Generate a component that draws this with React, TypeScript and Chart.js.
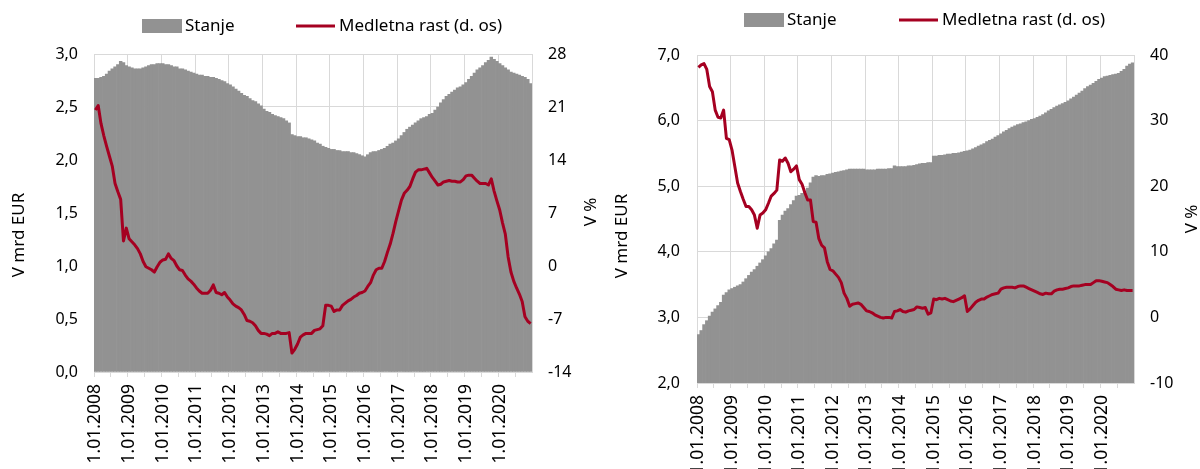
import React, { useEffect, useRef } from "react";
import { Chart, registerables } from "chart.js";

Chart.register(...registerables);

// ---------- categories ----------
const YEARS = [2008, 2009, 2010, 2011, 2012, 2013, 2014, 2015, 2016, 2017, 2018, 2019, 2020];
const MONTHS = ["01", "02", "03", "04", "05", "06", "07", "08", "09", "10", "11", "12"];
const CATEGORIES: string[] = YEARS.flatMap((y) => MONTHS.map((m) => `1.${m}.${y}`));

// ---------- left panel ----------
const LEFT_STANJE = [
  2.77, 2.77, 2.78, 2.79, 2.81, 2.84, 2.86, 2.88, 2.90, 2.93, 2.92, 2.89,
  2.88, 2.87, 2.86, 2.86, 2.86, 2.87, 2.88, 2.89, 2.90, 2.90, 2.91, 2.91,
  2.91, 2.90, 2.90, 2.89, 2.88, 2.88, 2.86, 2.86, 2.85, 2.84, 2.83, 2.82,
  2.81, 2.80, 2.80, 2.79, 2.79, 2.78, 2.78, 2.77, 2.76, 2.75, 2.74, 2.72,
  2.71, 2.69, 2.67, 2.65, 2.63, 2.61, 2.60, 2.58, 2.56, 2.55, 2.53, 2.51,
  2.48, 2.46, 2.45, 2.43, 2.42, 2.41, 2.40, 2.39, 2.37, 2.35, 2.24, 2.23,
  2.22, 2.22, 2.21, 2.21, 2.20, 2.19, 2.18, 2.16, 2.15, 2.13, 2.12, 2.11,
  2.10, 2.10, 2.09, 2.09, 2.08, 2.08, 2.08, 2.07, 2.07, 2.06, 2.05, 2.04,
  2.03, 2.05, 2.07, 2.08, 2.08, 2.09, 2.10, 2.11, 2.13, 2.15, 2.16, 2.18,
  2.20, 2.23, 2.26, 2.29, 2.31, 2.33, 2.35, 2.37, 2.39, 2.40, 2.41, 2.43,
  2.44, 2.47, 2.50, 2.54, 2.57, 2.60, 2.62, 2.64, 2.66, 2.68, 2.69, 2.71,
  2.73, 2.76, 2.79, 2.82, 2.85, 2.87, 2.89, 2.92, 2.94, 2.97, 2.95, 2.93,
  2.91, 2.89, 2.87, 2.85, 2.83, 2.82, 2.81, 2.80, 2.79, 2.78, 2.76, 2.72,
];
const LEFT_RAST = [
  20.6, 21.2, 18.8, 17.2, 15.8, 14.5, 13.2, 10.9, 9.8, 8.8, 3.3, 5.0,
  3.6, 3.2, 2.8, 2.3, 1.6, 0.6, -0.1, -0.3, -0.5, -0.8, -0.1, 0.5,
  0.8, 0.9, 1.6, 1.0, 0.7, 0.0, -0.5, -0.6, -1.2, -1.7, -2.0, -2.4,
  -2.9, -3.3, -3.6, -3.6, -3.6, -3.2, -2.5, -3.5, -3.6, -3.8, -3.5, -4.1,
  -4.5, -5.0, -5.3, -5.5, -5.8, -6.4, -7.2, -7.3, -7.5, -7.9, -8.5, -8.9,
  -8.9, -9.0, -9.2, -8.9, -8.9, -8.7, -8.9, -8.9, -8.9, -8.8, -11.5, -11.0,
  -10.3, -9.4, -9.1, -8.9, -8.9, -8.9, -8.5, -8.4, -8.3, -7.9, -5.2, -5.2,
  -5.3, -6.0, -5.8, -5.8, -5.2, -4.9, -4.6, -4.4, -4.1, -3.9, -3.6, -3.5,
  -3.3, -2.7, -2.2, -1.2, -0.5, -0.3, -0.3, 0.6, 1.8, 2.9, 4.3, 5.9,
  7.3, 8.7, 9.6, 10.0, 10.5, 11.5, 12.4, 12.7, 12.7, 12.8, 12.9, 12.3,
  11.7, 11.2, 10.7, 10.8, 11.1, 11.2, 11.3, 11.2, 11.2, 11.1, 11.1, 11.4,
  11.9, 12.0, 12.0, 11.6, 11.2, 10.9, 10.9, 10.9, 10.7, 11.5, 9.9, 8.6,
  7.4, 5.7, 4.2, 1.2, -0.8, -2.0, -2.9, -3.7, -4.7, -6.7, -7.3, -7.6,
];

// ---------- right panel ----------
const RIGHT_STANJE = [
  2.74, 2.80, 2.89, 2.95, 3.02, 3.08, 3.13, 3.18, 3.23, 3.34, 3.38, 3.42,
  3.44, 3.46, 3.48, 3.50, 3.54, 3.59, 3.64, 3.69, 3.73, 3.78, 3.83, 3.88,
  3.94, 4.00, 4.05, 4.12, 4.18, 4.48, 4.56, 4.62, 4.66, 4.72, 4.78, 4.85,
  4.86, 4.89, 4.92, 4.97, 5.05, 5.14, 5.16, 5.15, 5.16, 5.16, 5.18, 5.19,
  5.20, 5.21, 5.22, 5.23, 5.24, 5.25, 5.26, 5.26, 5.26, 5.26, 5.26, 5.26,
  5.25, 5.25, 5.25, 5.25, 5.26, 5.26, 5.26, 5.26, 5.27, 5.27, 5.31, 5.30,
  5.30, 5.30, 5.30, 5.31, 5.31, 5.32, 5.33, 5.34, 5.35, 5.35, 5.36, 5.36,
  5.46, 5.46, 5.47, 5.47, 5.48, 5.49, 5.49, 5.50, 5.50, 5.51, 5.52, 5.53,
  5.54, 5.55, 5.57, 5.59, 5.61, 5.63, 5.65, 5.68, 5.70, 5.72, 5.75, 5.77,
  5.80, 5.83, 5.85, 5.88, 5.90, 5.92, 5.94, 5.95, 5.97, 5.98, 6.00, 6.02,
  6.03, 6.05, 6.07, 6.09, 6.12, 6.15, 6.17, 6.20, 6.22, 6.24, 6.26, 6.28,
  6.30, 6.33, 6.36, 6.39, 6.42, 6.45, 6.49, 6.52, 6.54, 6.57, 6.60, 6.63,
  6.65, 6.67, 6.68, 6.69, 6.70, 6.71, 6.72, 6.75, 6.78, 6.83, 6.86, 6.88,
];
const RIGHT_RAST = [
  38.1, 38.5, 38.7, 37.8, 35.2, 34.4, 31.6, 30.5, 30.4, 31.6, 27.3, 27.1,
  25.5, 23.0, 20.5, 19.2, 18.0, 16.9, 16.9, 16.4, 15.6, 13.6, 15.6, 15.9,
  16.4, 17.4, 18.5, 18.9, 19.4, 24.0, 23.8, 24.3, 23.5, 22.2, 22.6, 23.1,
  21.0, 20.3, 19.0, 17.9, 17.9, 14.6, 14.5, 12.0, 11.0, 10.6, 8.5, 7.3,
  7.1, 6.6, 6.1, 5.3, 3.7, 2.9, 1.7, 2.0, 2.1, 2.2, 2.0, 1.5,
  1.0, 0.9, 0.7, 0.4, 0.2, 0.0, -0.1, 0.0, 0.0, -0.1, 0.9, 1.0,
  1.2, 0.9, 0.8, 1.0, 1.1, 1.2, 1.6, 1.5, 1.4, 1.5, 0.5, 0.7,
  2.8, 2.7, 2.9, 2.8, 2.9, 2.7, 2.5, 2.4, 2.6, 2.8, 3.0, 3.3,
  0.9, 1.3, 1.8, 2.3, 2.6, 2.8, 2.8, 3.1, 3.3, 3.5, 3.6, 3.7,
  4.3, 4.5, 4.6, 4.6, 4.6, 4.5, 4.7, 4.8, 4.8, 4.6, 4.4, 4.2,
  4.0, 3.8, 3.6, 3.5, 3.7, 3.6, 3.6, 4.0, 4.2, 4.3, 4.3, 4.4,
  4.5, 4.7, 4.8, 4.8, 4.8, 4.9, 5.0, 5.0, 5.0, 5.3, 5.6, 5.6,
  5.5, 5.4, 5.3, 5.0, 4.7, 4.3, 4.2, 4.1, 4.2, 4.1, 4.1, 4.1,
];

// ---------- texts ----------
const LEGEND_BAR = "Stanje";
const LEGEND_LINE = "Medletna rast (d. os)";
const TITLE_LEFT = "V mrd EUR";
const TITLE_RIGHT = "V %";

// ---------- styles ----------
const FONT = '"Noto Sans", "DejaVu Sans", sans-serif';
const GRID = "#d9d9d9";
const BAR = "#929292";
const RED = "#a50021";
const TEXT = "#000000";
const CW = 600;
const CH = 500;

type Panel = {
  stanje: number[];
  rast: number[];
  yMin: number; yMax: number; yStep: number;
  y1Min: number; y1Max: number; y1Step: number;
  plotLeft: number; plotRight: number; plotTop: number; plotBottom: number;
  yPad: number;
  legendY: number; legendBoxX: number; legendLineX: number;
  titleL: [number, number]; titleR: [number, number];
};

const LEFT_PANEL: Panel = {
  stanje: LEFT_STANJE, rast: LEFT_RAST,
  yMin: 0, yMax: 3, yStep: 0.5,
  y1Min: -14, y1Max: 28, y1Step: 7,
  plotLeft: 94, plotRight: 532, plotTop: 54, plotBottom: 372,
  yPad: 16,
  legendY: 26, legendBoxX: 142, legendLineX: 296,
  titleL: [19, 235], titleR: [591, 212],
};

const RIGHT_PANEL: Panel = {
  stanje: RIGHT_STANJE, rast: RIGHT_RAST,
  yMin: 2, yMax: 7, yStep: 1,
  y1Min: -10, y1Max: 40, y1Step: 10,
  plotLeft: 97, plotRight: 534, plotTop: 55, plotBottom: 383,
  yPad: 17,
  legendY: 20, legendBoxX: 144, legendLineX: 299,
  titleL: [22, 236], titleR: [592, 219],
};

function buildChart(canvas: HTMLCanvasElement, p: Panel) {
  const overlay = {
    id: "overlay",
    afterDraw(chart: any) {
      const ctx = chart.ctx as CanvasRenderingContext2D;
      ctx.save();
      ctx.fillStyle = BAR;
      ctx.fillRect(p.legendBoxX, p.legendY - 7, 40, 14);
      ctx.font = `17px ${FONT}`;
      ctx.fillStyle = TEXT;
      ctx.textBaseline = "middle";
      ctx.textAlign = "left";
      ctx.fillText(LEGEND_BAR, p.legendBoxX + 43, p.legendY);
      ctx.strokeStyle = RED;
      ctx.lineWidth = 3;
      ctx.beginPath();
      ctx.moveTo(p.legendLineX, p.legendY);
      ctx.lineTo(p.legendLineX + 39, p.legendY);
      ctx.stroke();
      ctx.fillText(LEGEND_LINE, p.legendLineX + 43, p.legendY);
      const rot = (t: string, x: number, y: number) => {
        ctx.save();
        ctx.translate(x, y);
        ctx.rotate(-Math.PI / 2);
        ctx.textAlign = "center";
        ctx.textBaseline = "middle";
        ctx.fillText(t, 0, 0);
        ctx.restore();
      };
      rot(TITLE_LEFT, p.titleL[0], p.titleL[1]);
      rot(TITLE_RIGHT, p.titleR[0], p.titleR[1]);
      ctx.restore();
    },
  };

  return new Chart(canvas, {
    type: "bar",
    data: {
      labels: CATEGORIES,
      datasets: [
        {
          type: "line",
          label: LEGEND_LINE,
          data: p.rast,
          yAxisID: "y1",
          borderColor: RED,
          borderWidth: 3,
          pointRadius: 0,
          tension: 0,
          borderJoinStyle: "round",
          order: 0,
        } as any,
        {
          type: "bar",
          label: LEGEND_BAR,
          data: p.stanje,
          yAxisID: "y",
          backgroundColor: BAR,
          borderWidth: 0,
          barPercentage: 1,
          categoryPercentage: 1,
          order: 1,
        } as any,
      ],
    },
    options: {
      responsive: false,
      animation: false,
      devicePixelRatio: 1,
      layout: { padding: { top: p.plotTop, left: 0, right: 0, bottom: 0 } },
      plugins: { legend: { display: false }, tooltip: { enabled: false } },
      scales: {
        x: {
          offset: true,
          grid: {
            offset: true,
            color: (c: any) => (c.index % 12 === 0 ? GRID : "rgba(0,0,0,0)"),
            tickColor: (c: any) => (c.index % 6 === 0 ? GRID : "rgba(0,0,0,0)"),
            tickLength: 5,
            lineWidth: 1,
          },
          border: { color: GRID, width: 1 },
          ticks: {
            autoSkip: false,
            maxRotation: 90,
            minRotation: 90,
            padding: 7,
            color: TEXT,
            font: { family: FONT, size: 17.5 },
            callback: (_v: any, i: number) => (i % 12 === 0 ? CATEGORIES[i] : ""),
          },
          afterFit: (s: any) => {
            s.height = CH - p.plotBottom;
          },
        },
        y: {
          type: "linear",
          position: "left",
          min: p.yMin,
          max: p.yMax,
          beginAtZero: false,
          grid: { color: GRID, lineWidth: 1, drawTicks: false },
          border: { color: GRID, width: 1 },
          ticks: {
            stepSize: p.yStep,
            padding: p.yPad,
            color: TEXT,
            font: { family: FONT, size: 16 },
            callback: (v: any) => Number(v).toFixed(1).replace(".", ","),
          },
          afterFit: (s: any) => {
            s.width = p.plotLeft;
          },
        },
        y1: {
          type: "linear",
          position: "right",
          min: p.y1Min,
          max: p.y1Max,
          grid: { drawOnChartArea: false, drawTicks: false },
          border: { color: GRID, width: 1 },
          ticks: {
            stepSize: p.y1Step,
            padding: 16,
            color: TEXT,
            font: { family: FONT, size: 16 },
            callback: (v: any) => String(Math.round(Number(v))),
          },
          afterFit: (s: any) => {
            s.width = CW - p.plotRight;
          },
        },
      },
    } as any,
    plugins: [overlay as any],
  });
}

export default function App() {
  const leftRef = useRef<HTMLCanvasElement | null>(null);
  const rightRef = useRef<HTMLCanvasElement | null>(null);

  useEffect(() => {
    const charts: Chart[] = [];
    if (leftRef.current) charts.push(buildChart(leftRef.current, LEFT_PANEL));
    if (rightRef.current) charts.push(buildChart(rightRef.current, RIGHT_PANEL));
    return () => charts.forEach((c) => c.destroy());
  }, []);

  return (
    <div
      style={{
        position: "fixed",
        left: 0,
        top: 0,
        width: 1200,
        height: 469,
        overflow: "hidden",
        background: "#ffffff",
      }}
    >
      <canvas
        ref={leftRef}
        width={CW}
        height={CH}
        style={{ position: "absolute", left: 0, top: 0, width: CW, height: CH }}
      />
      <canvas
        ref={rightRef}
        width={CW}
        height={CH}
        style={{ position: "absolute", left: 600, top: 0, width: CW, height: CH }}
      />
    </div>
  );
}
